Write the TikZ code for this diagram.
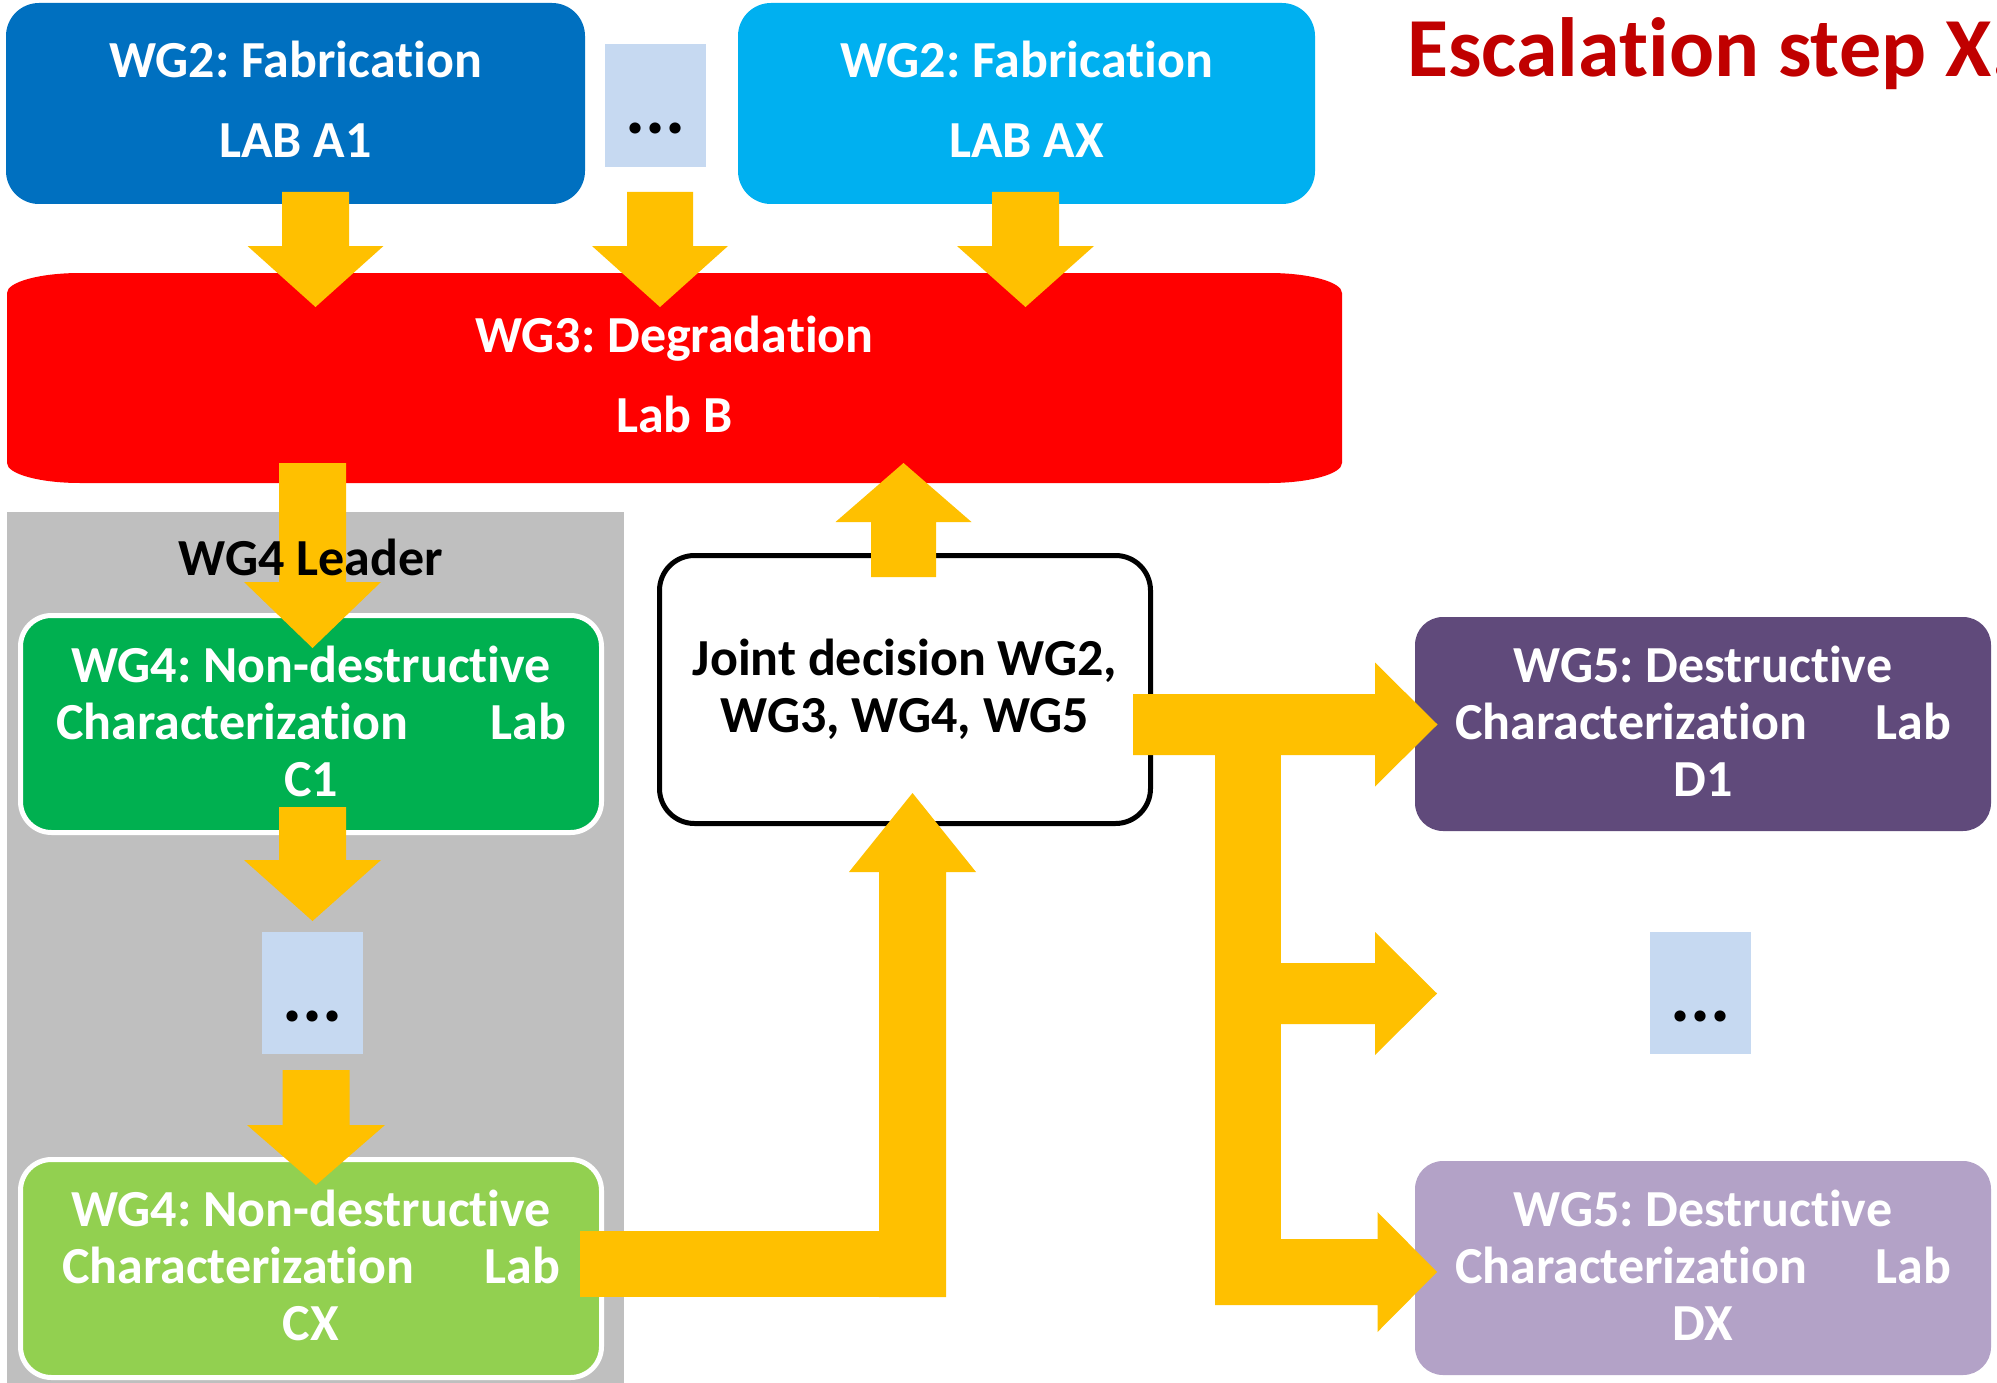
\documentclass[tikz,border=0pt]{standalone}
\usepackage{fontspec}
\setmainfont{Carlito}[Ligatures={NoCommon,NoRare}]
\frenchspacing
\usetikzlibrary{calc}
\definecolor{wgtwoA}{HTML}{0070C0}
\definecolor{wgtwoX}{HTML}{00B0F0}
\definecolor{dotsbg}{HTML}{C6D9F1}
\definecolor{gold}{HTML}{FFC000}
\definecolor{wgthree}{HTML}{FF0000}
\definecolor{leadergray}{HTML}{BFBFBF}
\definecolor{greenA}{HTML}{00B050}
\definecolor{greenX}{HTML}{92D050}
\definecolor{purpleA}{HTML}{604A7B}
\definecolor{purpleX}{HTML}{B3A2C7}
\definecolor{titlered}{HTML}{C00000}
\newcommand{\dpfix}[1]{\rule[-#1]{0pt}{#1}}
\tikzset{
  labbox/.style={rectangle, rounded corners=33pt, inner sep=0pt, align=center,
    text=white, font=\bfseries\fontsize{52}{80}\selectfont},
  wgbox/.style={labbox, draw=white, line width=5pt, rounded corners=31pt,
    minimum width=581pt, minimum height=217pt,
    font=\bfseries\fontsize{52}{57}\selectfont},
  destbox/.style={labbox, rounded corners=28pt, minimum width=576pt, minimum height=214pt,
    font=\bfseries\fontsize{52}{57}\selectfont},
  dotbox/.style={rectangle, fill=dotsbg, minimum width=101pt, minimum height=123pt,
    inner sep=0pt, text height=67pt, text depth=10pt, text=black,
    font=\bfseries\fontsize{75}{75}\selectfont},
  arrowfill/.style={fill=gold},
}
% #1 start, #2 tip, #3 half shaft width, #4 half head width, #5 head length
\newcommand{\blkarrow}[5]{%
  \coordinate (hb) at ($(#2)!#5!(#1)$);
  \fill[arrowfill] ($(#1)!#3!90:(#2)$) -- ($(hb)!#3!90:(#2)$) -- ($(hb)!#4!90:(#2)$)
    -- (#2) -- ($(hb)!#4!-90:(#2)$) -- ($(hb)!#3!-90:(#2)$) -- ($(#1)!#3!-90:(#2)$) -- cycle;}
\begin{document}
\begin{tikzpicture}[x=1pt,y=-1pt]
\useasboundingbox (0,0) rectangle (1997,1383);
\clip (0,0) rectangle (1997,1383);

% title
\node[anchor=base west, inner sep=0pt, text=titlered, font=\bfseries\fontsize{84}{84}\selectfont]
  (title) at (1407,77) {Escalation step X.};

% WG2 boxes
\node[labbox, fill=wgtwoA, minimum width=579pt, minimum height=201pt] (labA1) at (295.5,103.5)
  {WG2: Fabrication\\LAB A1\dpfix{8pt}};
\node[dotbox] (dotsA) at (655.5,105.5) {...};
\node[labbox, fill=wgtwoX, minimum width=577pt, minimum height=201pt] (labAX) at (1026.5,103.5)
  {WG2: Fabrication\\LAB AX\dpfix{8pt}};

% WG3 box
\fill[wgthree] (80,273) -- (1269,273) .. controls (1309.3,273) and (1342,282) .. (1342,293)
  -- (1342,463) .. controls (1342,474) and (1309.3,483) .. (1269,483)
  -- (80,483) .. controls (39.7,483) and (7,474) .. (7,463)
  -- (7,293) .. controls (7,282) and (39.7,273) .. (80,273) -- cycle;
\node[labbox, minimum width=1335pt, minimum height=210pt] (labB) at (674.5,376)
  {WG3: Degradation\\Lab B\dpfix{3pt}};

% WG4 leader area
\node[rectangle, fill=leadergray, inner sep=0pt, minimum width=617pt, minimum height=880pt]
  (leader) at (315.5,952) {};
\node[wgbox, fill=greenA] (labC1) at (311,724)
  {WG4: Non-destructive\\\makebox[510pt]{Characterization\hfill Lab}\\C1\dpfix{6pt}};
\node[dotbox, minimum height=122pt] (dotsC) at (312.5,993) {...};
\node[wgbox, fill=greenX, minimum height=218pt] (labCX) at (311,1268.5)
  {WG4: Non-destructive\\\makebox[498pt]{Characterization\hfill Lab}\\CX\dpfix{6pt}};

% joint decision
\node[rectangle, draw=black, fill=white, line width=5pt, rounded corners=35pt,
  minimum width=491pt, minimum height=268pt, align=center, inner sep=0pt,
  font=\bfseries\fontsize{52}{57}\selectfont] (joint) at (905,689.5)
  {Joint decision WG2,\\WG3, WG4, WG5};

% WG5 boxes
\node[destbox, fill=purpleA] (labD1) at (1703,724)
  {WG5: Destructive\\\makebox[496pt]{Characterization\hfill Lab}\\D1\dpfix{6pt}};
\node[dotbox, minimum height=122pt] (dotsD) at (1700.5,993) {...};
\node[destbox, fill=purpleX] (labDX) at (1703,1268)
  {WG5: Destructive\\\makebox[496pt]{Characterization\hfill Lab}\\DX\dpfix{6pt}};

% arrow end points
\coordinate (a1s) at (315.5,192);  \coordinate (a1t) at (315.5,307);
\coordinate (a2s) at (660,192);    \coordinate (a2t) at (660,307);
\coordinate (a3s) at (1025.5,192); \coordinate (a3t) at (1025.5,307);
\coordinate (b1s) at (312.5,463);  \coordinate (b1t) at (312.5,648);
\coordinate (c1s) at (312.5,807);  \coordinate (c1t) at (312.5,921);
\coordinate (c2s) at (316,1070);   \coordinate (c2t) at (316,1185);
\coordinate (jus) at (903.5,577);  \coordinate (jut) at (903.5,463);
\coordinate (cxb) at (912.5,1297); \coordinate (cxt) at (912.5,793);
\coordinate (jrs) at (1133,724.5); \coordinate (jrt) at (1437.5,724.5);
\coordinate (tms) at (1281,993.5); \coordinate (tmt) at (1437,993.5);
\coordinate (tbs) at (1215,1272);  \coordinate (tbt) at (1437,1272);

% arrows
\blkarrow{a1s}{a1t}{33.5pt}{68pt}{61pt}
\blkarrow{a2s}{a2t}{33pt}{68pt}{61pt}
\blkarrow{a3s}{a3t}{33.5pt}{68.5pt}{61pt}
\blkarrow{b1s}{b1t}{33.5pt}{68.5pt}{66pt}
\blkarrow{c1s}{c1t}{33.5pt}{68.5pt}{61pt}
\blkarrow{c2s}{c2t}{33.5pt}{69pt}{60pt}
\blkarrow{jus}{jut}{32.5pt}{68pt}{59pt}
\fill[arrowfill] (580,1231) rectangle (946,1297);
\blkarrow{cxb}{cxt}{33.5pt}{63.5pt}{79pt}
\blkarrow{jrs}{jrt}{30.5pt}{62pt}{62.5pt}
\fill[arrowfill] (1215,755) rectangle (1281,1305);
\blkarrow{tms}{tmt}{30.5pt}{61.5pt}{62pt}
\blkarrow{tbs}{tbt}{33pt}{60pt}{59.5pt}

\node[anchor=base, inner sep=0pt, text=black, font=\bfseries\fontsize{52}{52}\selectfont]
  (leadertxt) at (311,575) {WG4 Leader};
\end{tikzpicture}
\end{document}
